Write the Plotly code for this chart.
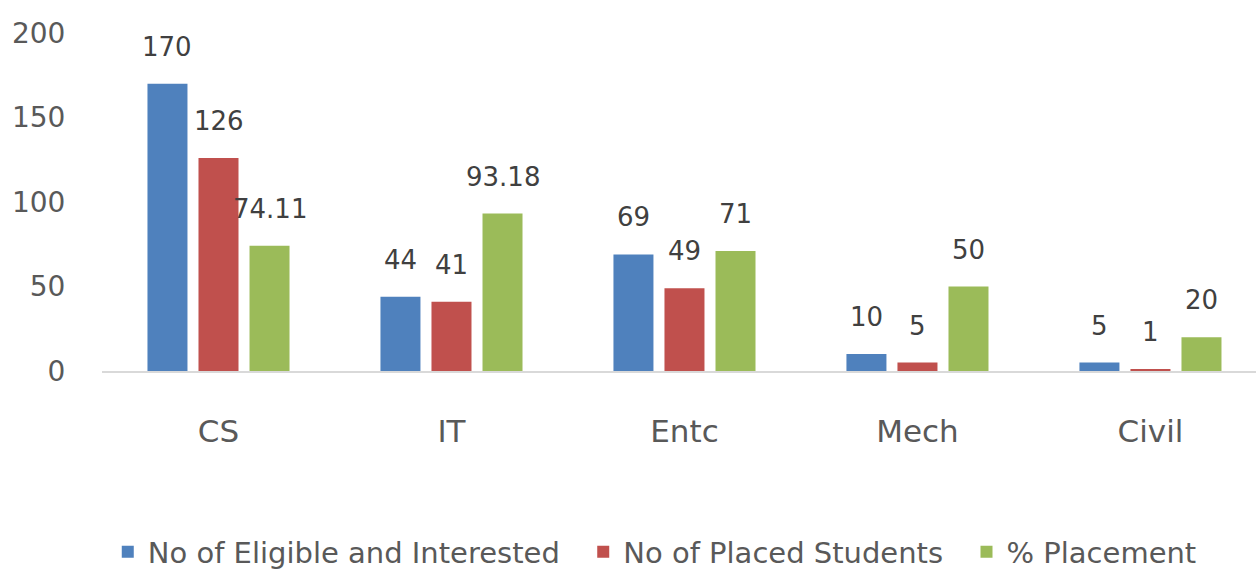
import plotly.graph_objects as go

categories = ["CS", "IT", "Entc", "Mech", "Civil"]
eligible = [170, 44, 69, 10, 5]
placed = [126, 41, 49, 5, 1]
pct_placement = [74.11, 93.18, 71, 50, 20]
eligible_labels = ["170", "44", "69", "10", "5"]
placed_labels = ["126", "41", "49", "5", "1"]
pct_labels = ["74.11", "93.18", "71", "50", "20"]
series_names = ["No of Eligible and Interested", "No of Placed Students", "% Placement"]

series = [
    (series_names[0], eligible, eligible_labels, "#4F81BD"),
    (series_names[1], placed, placed_labels, "#C0504D"),
    (series_names[2], pct_placement, pct_labels, "#9BBB59"),
]

FONT = "DejaVu Sans"
BARGAP = 0.343
slot = (1 - BARGAP) / 3

fig = go.Figure()
annotations = []
for j, (name, vals, labs, color) in enumerate(series):
    fig.add_trace(go.Bar(
        x=list(range(len(categories))), y=vals,
        name=name + ("\u00a0\u00a0" if j < 2 else ""),
        marker=dict(color=color, line=dict(width=0)),
    ))
    for i, (v, t) in enumerate(zip(vals, labs)):
        annotations.append(dict(
            x=i + (j - 1) * slot, y=v, xref="x", yref="y", text=t,
            showarrow=False, yshift=37, yanchor="middle",
            font=dict(family=FONT, size=26, color="#404040"),
        ))

fig.update_layout(
    width=1256, height=574,
    margin=dict(l=102, r=0, t=33, b=203, autoexpand=False),
    paper_bgcolor="white", plot_bgcolor="white",
    barmode="group", bargap=BARGAP, bargroupgap=0.216,
    annotations=annotations,
    xaxis=dict(
        range=[-0.5, 4.453], tickmode="array", automargin=False,
        tickvals=list(range(len(categories))), ticktext=categories,
        showline=True, linecolor="#D9D9D9", linewidth=2,
        ticks="outside", ticklen=32, tickcolor="rgba(0,0,0,0)",
        tickfont=dict(family=FONT, size=31, color="#595959"),
        showgrid=False, zeroline=False,
    ),
    yaxis=dict(
        range=[0, 200], tickvals=[0, 50, 100, 150, 200], automargin=False,
        showgrid=False, zeroline=False, showline=False,
        ticks="outside", ticklen=30, tickcolor="rgba(0,0,0,0)",
        tickfont=dict(family=FONT, size=28, color="#595959"),
    ),
    legend=dict(
        orientation="h", x=0.479, xanchor="center", y=-0.535, yanchor="middle",
        font=dict(family=FONT, size=29, color="#595959"),
        tracegroupgap=0, traceorder="normal",
    ),
    showlegend=True,
)

fig.write_html("out.html", config={"displayModeBar": False},
               post_script="document.body.style.margin='0';")
